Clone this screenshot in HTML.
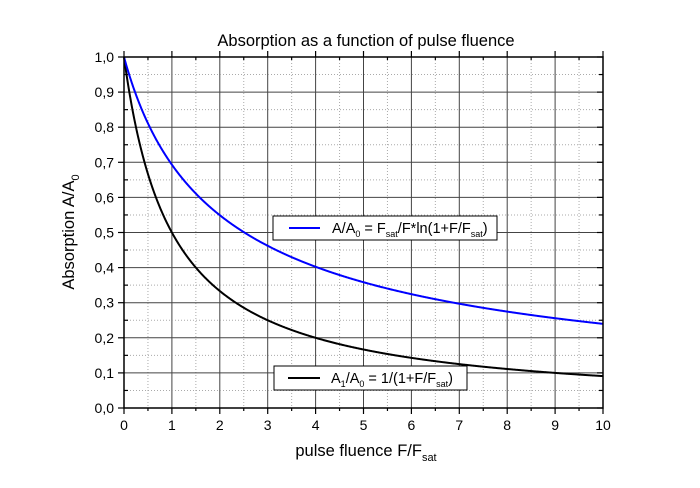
<!DOCTYPE html>
<html><head><meta charset="utf-8"><style>
body{margin:0;background:#fff;}
svg{display:block;font-family:"Liberation Sans",Arial,sans-serif;}
</style></head><body>
<svg id="s" width="700" height="488" xmlns="http://www.w3.org/2000/svg">
<rect width="700" height="488" fill="#fff"/>
<g id="grid"></g>
<path id="blk" fill="none" stroke="#000" stroke-width="2"/>
<path id="blu" fill="none" stroke="#0000ff" stroke-width="2"/>
<rect x="124" y="57" width="479" height="351" fill="none" stroke="#000" stroke-width="1.5"/>
<g id="ticks" stroke="#000" stroke-width="1.2"></g>
<g id="labs" font-size="14" fill="#000"></g>
<text x="366" y="46" font-size="16.5" text-anchor="middle">Absorption as a function of pulse fluence</text>
<text x="366" y="456" font-size="16.5" text-anchor="middle">pulse fluence F/F<tspan font-size="11" dy="5">sat</tspan></text>
<text transform="translate(74,232) rotate(-90)" font-size="16.5" text-anchor="middle">Absorption A/A<tspan font-size="11" dy="5">0</tspan></text>
<rect x="273" y="216" width="224" height="24" fill="#fff" stroke="#000" stroke-width="1"/>
<line x1="289" y1="228" x2="320" y2="228" stroke="#0000ff" stroke-width="2"/>
<text x="332" y="233" font-size="14.5">A/A<tspan font-size="9" dy="4">0</tspan><tspan dy="-4"> = F</tspan><tspan font-size="9" dy="4">sat</tspan><tspan dy="-4">/F*ln(1+F/F</tspan><tspan font-size="9" dy="4">sat</tspan><tspan dy="-4">)</tspan></text>
<rect x="274" y="366" width="193" height="24" fill="#fff" stroke="#000" stroke-width="1"/>
<line x1="288" y1="378" x2="320" y2="378" stroke="#000" stroke-width="2"/>
<text x="331" y="383" font-size="14.5">A<tspan font-size="9" dy="4">1</tspan><tspan dy="-4">/A</tspan><tspan font-size="9" dy="4">0</tspan><tspan dy="-4"> =  1/(1+F/F</tspan><tspan font-size="9" dy="4">sat</tspan><tspan dy="-4">)</tspan></text>
</svg>
<script>
var X0=124,X1=603,Y0=408,Y1=57;
function px(x){return X0+(X1-X0)*x/10;}function py(y){return Y0-(Y0-Y1)*y;}
var g='',t='',l='';
for(var i=0;i<=20;i++){var x=px(i/2);
 if(i%2==0){g+='<line x1="'+x+'" y1="57" x2="'+x+'" y2="408" stroke="#444" stroke-width="1"/>';
  t+='<line x1="'+x+'" y1="408" x2="'+x+'" y2="414"/><line x1="'+x+'" y1="57" x2="'+x+'" y2="51"/>';
  l+='<text x="'+x+'" y="430" text-anchor="middle">'+(i/2)+'</text>';}
 else{g+='<line x1="'+x+'" y1="57" x2="'+x+'" y2="408" stroke="#aaa" stroke-width="1" stroke-dasharray="1,2"/>';
  t+='<line x1="'+x+'" y1="408" x2="'+x+'" y2="411"/><line x1="'+x+'" y1="57" x2="'+x+'" y2="60"/>';}}
for(var i=0;i<=20;i++){var y=py(i/20);
 if(i%2==0){g+='<line x1="124" y1="'+y+'" x2="603" y2="'+y+'" stroke="#444" stroke-width="1"/>';
  t+='<line x1="118" y1="'+y+'" x2="124" y2="'+y+'"/><line x1="603" y1="'+y+'" x2="597" y2="'+y+'"/>';
  l+='<text x="114" y="'+(y+5)+'" text-anchor="end">'+(i/20).toFixed(1).replace('.',',')+'</text>';}
 else{g+='<line x1="124" y1="'+y+'" x2="603" y2="'+y+'" stroke="#aaa" stroke-width="1" stroke-dasharray="1,2"/>';
  t+='<line x1="124" y1="'+y+'" x2="128" y2="'+y+'"/><line x1="603" y1="'+y+'" x2="599" y2="'+y+'"/>';}}
document.getElementById('grid').innerHTML=g;document.getElementById('ticks').innerHTML=t;document.getElementById('labs').innerHTML=l;
var a='',b='';for(var k=0;k<=1000;k++){var x=k/100;var f1=1/(1+x);var f2=x==0?1:Math.log(1+x)/x;
a+=(k?'L':'M')+px(x).toFixed(2)+','+py(f1).toFixed(2);b+=(k?'L':'M')+px(x).toFixed(2)+','+py(f2).toFixed(2);}
document.getElementById('blk').setAttribute('d',a);document.getElementById('blu').setAttribute('d',b);
</script>
</body></html>
